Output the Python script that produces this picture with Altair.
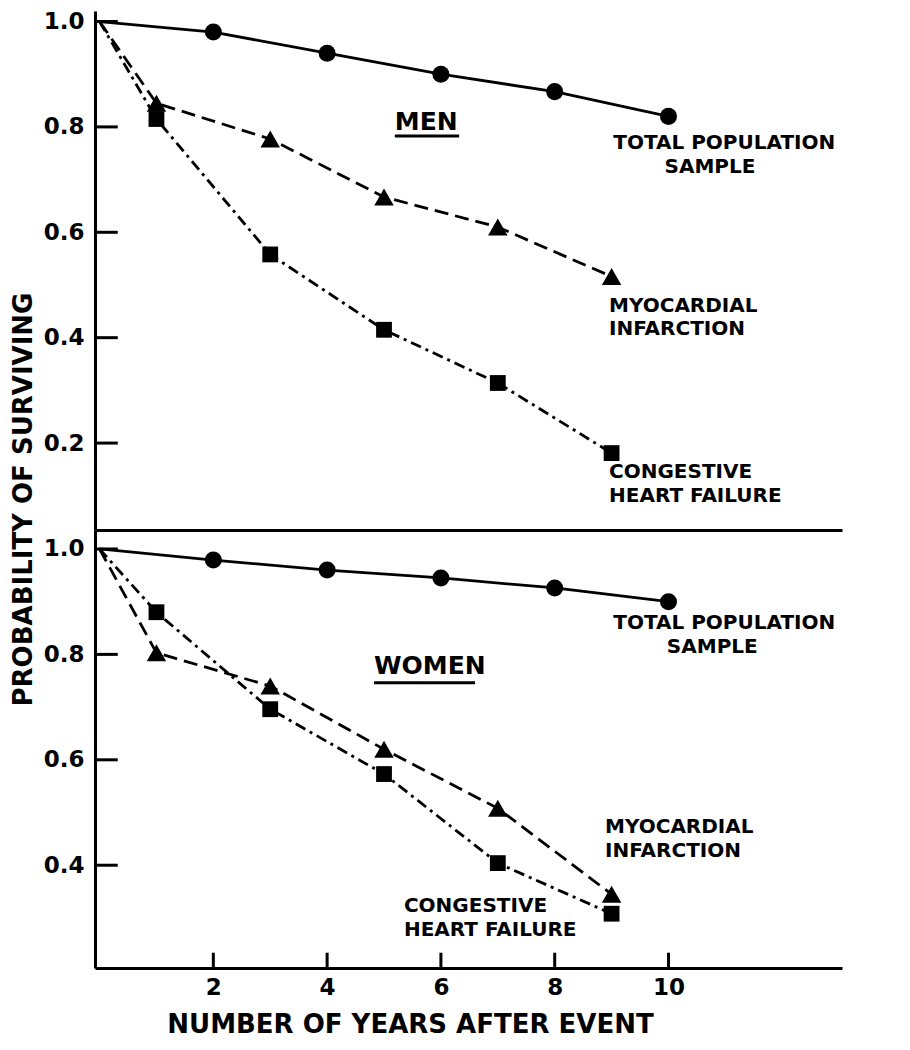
import altair as alt
import pandas as pd

# ---------------- data ----------------
years_total = [0, 2, 4, 6, 8, 10]
years_event = [0, 1, 3, 5, 7, 9]

men_total = [1.0, 0.98, 0.94, 0.90, 0.867, 0.82]
men_mi = [1.0, 0.845, 0.777, 0.667, 0.61, 0.516]
men_chf = [1.0, 0.815, 0.558, 0.415, 0.314, 0.181]

women_total = [1.0, 0.979, 0.96, 0.945, 0.926, 0.90]
women_mi = [1.0, 0.803, 0.74, 0.62, 0.508, 0.345]
women_chf = [1.0, 0.88, 0.696, 0.573, 0.404, 0.308]

x_ticks = [2, 4, 6, 8, 10]
y_ticks_men = [0.2, 0.4, 0.6, 0.8, 1.0]
y_ticks_women = [0.4, 0.6, 0.8, 1.0]

# ---------------- layout / style ----------------
FONT = "DejaVu Sans"
X_DOMAIN = [-0.08, 13.05]
MEN_DOMAIN = [0.035, 1.02]
WOMEN_DOMAIN = [0.205, 1.036]
W = 747
H_MEN = 519
H_WOMEN = 438
Y_TICK_LEN = 0.40      # in years (inward tick length, ~23 px)
X_TICK_LEN = 0.029     # in probability units (~15 px)

STYLES = {
    "total": dict(dash=None, shape="circle", size=290),
    "mi": dict(dash=[14, 7], shape="triangle-up", size=380),
    "chf": dict(dash=[11, 5, 3, 5], shape="square", size=250),
}

# annotation text: (text, x, y, align, size)
men_text = [
    ("MEN", 5.19, 0.809, "left", 25),
    ("TOTAL POPULATION", 10.98, 0.770, "center", 20),
    ("SAMPLE", 10.73, 0.724, "center", 20),
    ("MYOCARDIAL", 8.955, 0.461, "left", 20),
    ("INFARCTION", 8.955, 0.416, "left", 20),
    ("CONGESTIVE", 8.955, 0.145, "left", 20),
    ("HEART FAILURE", 8.955, 0.0995, "left", 20),
]
men_underline = [(5.19, 6.32, 0.783)]

women_text = [
    ("WOMEN", 4.824, 0.778, "left", 25),
    ("TOTAL POPULATION", 10.98, 0.859, "center", 20),
    ("SAMPLE", 10.77, 0.814, "center", 20),
    ("MYOCARDIAL", 8.885, 0.472, "left", 20),
    ("INFARCTION", 8.885, 0.427, "left", 20),
    ("CONGESTIVE", 5.35, 0.322, "left", 20),
    ("HEART FAILURE", 5.35, 0.278, "left", 20),
]
women_underline = [(4.824, 6.60, 0.746)]


def segments(underlines, yticks, ydomain, with_x_ticks):
    """Underlines plus inward axis ticks, all as short straight segments."""
    rows = []
    for x0, x1, y in underlines:
        rows.append((x0, x1, y, y))
    for v in yticks:
        rows.append((X_DOMAIN[0], X_DOMAIN[0] + Y_TICK_LEN, v, v))
    if with_x_ticks:
        for t in x_ticks:
            rows.append((t, t, ydomain[0], ydomain[0] + X_TICK_LEN))
    return pd.DataFrame(rows, columns=["x0", "x1", "y0", "y1"])


def panel(series, ydomain, yticks, texts, underlines, height, x_axis, y_axis, x_tick_marks):
    xs = alt.Scale(domain=X_DOMAIN, nice=False, zero=False)
    ys = alt.Scale(domain=ydomain, nice=False, zero=False)
    layers = []
    for key, years, vals in series:
        st = STYLES[key]
        df = pd.DataFrame({"year": years, "value": vals})
        lk = dict(color="black", strokeWidth=2.8)
        if st["dash"]:
            lk["strokeDash"] = st["dash"]
        layers.append(
            alt.Chart(df).mark_line(**lk).encode(
                x=alt.X("year:Q", scale=xs, axis=x_axis),
                y=alt.Y("value:Q", scale=ys, axis=y_axis),
            )
        )
        layers.append(
            alt.Chart(df[df["year"] > 0]).mark_point(
                shape=st["shape"], size=st["size"], filled=True, color="black", opacity=1
            ).encode(
                x=alt.X("year:Q", scale=xs, axis=x_axis),
                y=alt.Y("value:Q", scale=ys, axis=y_axis),
            )
        )
    tdf = pd.DataFrame(texts, columns=["text", "x", "y", "align", "size"])
    for (al, sz), sub in tdf.groupby(["align", "size"]):
        layers.append(
            alt.Chart(sub).mark_text(
                align=al, baseline="middle", font=FONT, fontWeight="bold",
                fontSize=int(sz), color="black"
            ).encode(
                x=alt.X("x:Q", scale=xs, axis=x_axis),
                y=alt.Y("y:Q", scale=ys, axis=y_axis),
                text="text:N",
            )
        )
    sdf = segments(underlines, yticks, ydomain, x_tick_marks)
    layers.append(
        alt.Chart(sdf).mark_rule(color="black", strokeWidth=3).encode(
            x=alt.X("x0:Q", scale=xs, axis=x_axis),
            x2="x1:Q",
            y=alt.Y("y0:Q", scale=ys, axis=y_axis),
            y2="y1:Q",
        )
    )
    return alt.layer(*layers).properties(width=W, height=height)


top = panel(
    [("total", years_total, men_total), ("mi", years_event, men_mi), ("chf", years_event, men_chf)],
    MEN_DOMAIN, y_ticks_men, men_text, men_underline, H_MEN,
    x_axis=alt.Axis(labels=False, ticks=False, title=None, grid=False),
    y_axis=alt.Axis(values=y_ticks_men, format=".1f", ticks=False, labelPadding=11, grid=False,
                    title="PROBABILITY OF SURVIVING", titleX=-72, titleY=488, titleAngle=270,
                    titleAlign="center", titleBaseline="middle"),
    x_tick_marks=False,
)

bottom = panel(
    [("total", years_total, women_total), ("mi", years_event, women_mi), ("chf", years_event, women_chf)],
    WOMEN_DOMAIN, y_ticks_women, women_text, women_underline, H_WOMEN,
    x_axis=alt.Axis(values=x_ticks, format="d", ticks=False, labelPadding=8, grid=False,
                    title="NUMBER OF YEARS AFTER EVENT", titleX=315, titleY=56,
                    titleAlign="center", titleBaseline="middle"),
    y_axis=alt.Axis(values=y_ticks_women, format=".1f", ticks=False, labelPadding=11, grid=False, title=None),
    x_tick_marks=True,
)

chart = (
    alt.vconcat(top, bottom, spacing=0, bounds="flush")
    .properties(padding={"left": 2, "top": 2, "right": 5, "bottom": 5}, background="white")
    .configure_view(stroke=None)
    .configure_axis(
        domainColor="black", domainWidth=3,
        labelFont=FONT, labelFontWeight="bold", labelFontSize=23, labelColor="black",
        titleFont=FONT, titleFontWeight="bold", titleFontSize=26, titleColor="black",
    )
)

chart.save("out.html", embed_options={"renderer": "svg", "actions": False})
